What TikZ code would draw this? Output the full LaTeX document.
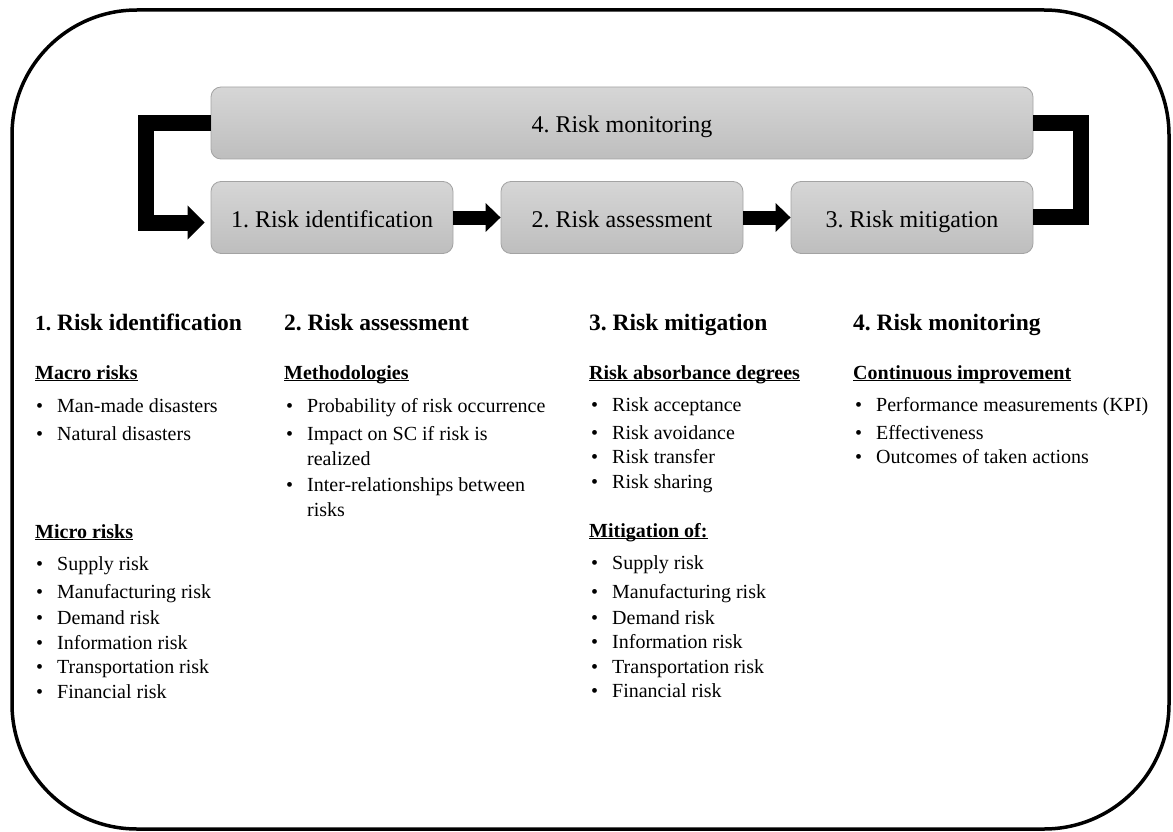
\documentclass[tikz,border=0pt]{standalone}
\usepackage{fontspec}
\setmainfont{Liberation Serif}
\usetikzlibrary{arrows.meta}
\frenchspacing

\definecolor{boxtop}{HTML}{D6D6D6}
\definecolor{boxbot}{HTML}{BEBEBE}
\definecolor{boxedge}{HTML}{A3A3A3}

% underline drawn at a fixed depth below the baseline
\newcommand\subline[1]{\setbox0\hbox{#1}\rlap{\rule[-2.4pt]{\wd0}{1.3pt}}\box0}
\newcommand\bul{\makebox[21pt][l]{\textbullet}}

\tikzset{
  stage/.style={draw=boxedge, line width=0.8pt, rounded corners=10pt,
    top color=boxtop, bottom color=boxbot, minimum height=72pt,
    text height=24pt, text depth=5pt,
    inner sep=0pt, font=\fontsize{24}{28}\selectfont},
  flow/.style={line width=14pt, -{Triangle[length=15pt,width=28pt]}},
  loopline/.style={line width=16pt, line join=miter},
  head/.style={anchor=base west, inner sep=0pt, font=\fontsize{23.5}{28}\selectfont\bfseries},
  sub/.style={anchor=base west, inner sep=0pt, font=\fontsize{20}{24}\selectfont\bfseries},
  item/.style={anchor=base west, inner sep=0pt, font=\fontsize{20}{24}\selectfont},
  frame/.style={draw, line width=3.5pt, rounded corners=125pt, inner sep=0pt},
}

\begin{document}
\begin{tikzpicture}[x=1pt, y=1pt]
\useasboundingbox (0,0) rectangle (1173,-832);

% outer frame
\node[frame, minimum width=1157pt, minimum height=819pt] (frame) at (590.5,-419.5) {};

% process stages
\node[stage, minimum width=822pt] (mon) at (622,-123) {4. Risk monitoring};
\node[stage, minimum width=242pt] (s1) at (332,-217.5) {1. Risk identification};
\node[stage, minimum width=242pt] (s2) at (622,-217.5) {2. Risk assessment};
\node[stage, minimum width=242pt] (s3) at (912,-217.5) {3. Risk mitigation};

\draw[flow] (s1.east) -- (s2.west);
\draw[flow] (s2.east) -- (s3.west);

% feedback loop through monitoring
\coordinate (lt) at (145.5,-123);
\coordinate (rt) at (1080.5,-123);
\draw[loopline, -{Triangle[length=17pt,width=33pt]}, shorten >=6pt]
  (mon.west) -- (lt) |- ([yshift=-5pt]s1.west);
\draw[loopline] (mon.east) -- (rt) |- ([yshift=1pt]s3.east);

% column 1
\node[head] (h1) at (35,-330) {{\fontsize{21.5}{26}\selectfont 1.} Risk identification};
\node[sub] (m1) at (35,-379) {\subline{Macro risks}};
\foreach \y/\t in {412/Man-made disasters, 440/Natural disasters}
  \node[item] (a\y) at (36,-\y) {\bul\t};
\node[sub] (m2) at (35,-538) {\subline{Micro risks}};
\foreach \y/\t in {570/Supply risk, 598/Manufacturing risk, 624/Demand risk,
                   649/Information risk, 673/Transportation risk, 698/Financial risk}
  \node[item] (b\y) at (36,-\y) {\bul\t};

% column 2
\node[head] (h2) at (284,-330) {2. Risk assessment};
\node[sub] (m3) at (284,-379) {\subline{Methodologies}};
\foreach \y/\t in {412/Probability of risk occurrence, 440/Impact on SC if risk is,
                   491/Inter-relationships between}
  \node[item] (c\y) at (286,-\y) {\bul\t};
\node[item] (c465) at (307,-465) {realized};
\node[item] (c516) at (307,-516) {risks};

% column 3
\node[head] (h3) at (589,-330) {3. Risk mitigation};
\node[sub] (m4) at (589,-379) {\subline{Risk absorbance degrees}};
\foreach \y/\t in {411/Risk acceptance, 439/Risk avoidance, 463/Risk transfer, 488/Risk sharing}
  \node[item] (d\y) at (591,-\y) {\bul\t};
\node[sub] (m5) at (589,-537) {\subline{Mitigation of:}};
\foreach \y/\t in {569/Supply risk, 598/Manufacturing risk, 624/Demand risk,
                   648/Information risk, 673/Transportation risk, 697/Financial risk}
  \node[item] (e\y) at (591,-\y) {\bul\t};

% column 4
\node[head] (h4) at (853,-330) {4. Risk monitoring};
\node[sub] (m6) at (853,-379) {\subline{Continuous improvement}};
\foreach \y/\t in {411/Performance measurements (KPI), 439/Effectiveness, 463/Outcomes of taken actions}
  \node[item] (f\y) at (855,-\y) {\bul\t};
\end{tikzpicture}
\end{document}
